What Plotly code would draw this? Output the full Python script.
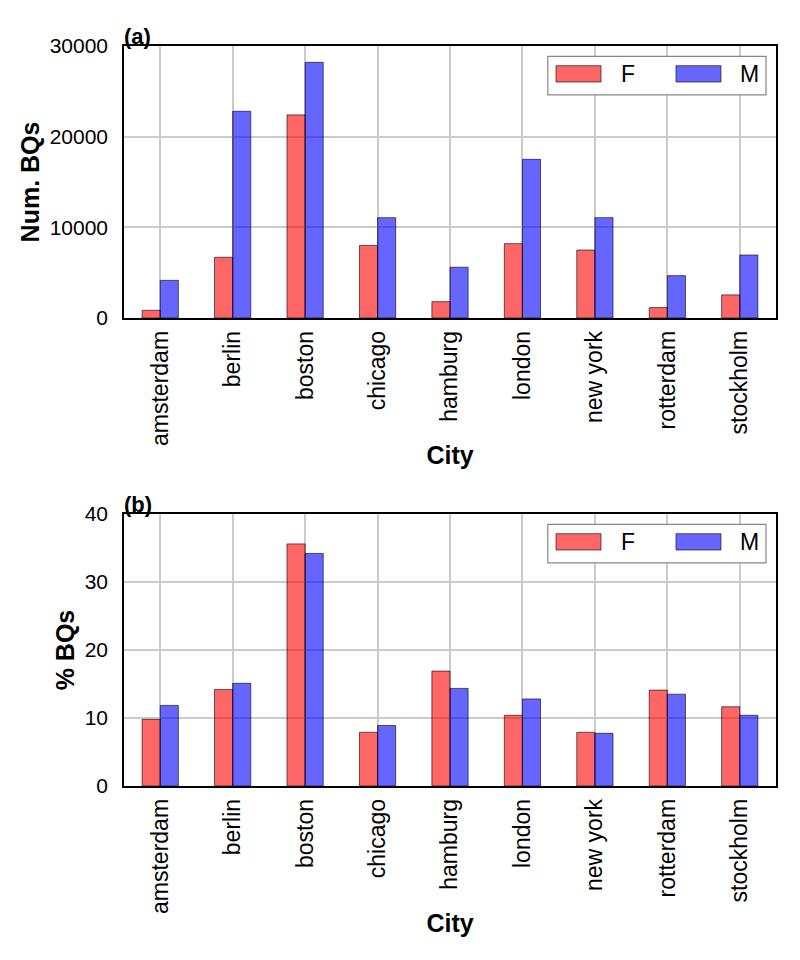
import plotly.graph_objects as go
from plotly.subplots import make_subplots

cities = ["amsterdam", "berlin", "boston", "chicago", "hamburg",
          "london", "new york", "rotterdam", "stockholm"]
num_F = [850, 6700, 22400, 8000, 1800, 8200, 7500, 1150, 2550]
num_M = [4150, 22800, 28200, 11070, 5600, 17500, 11070, 4670, 6950]
pct_F = [9.8, 14.2, 35.6, 7.9, 16.9, 10.4, 7.9, 14.1, 11.65]
pct_M = [11.85, 15.1, 34.2, 8.9, 14.35, 12.8, 7.75, 13.5, 10.4]
series_names = ["F", "M"]
panel_labels = ["(a)", "(b)"]
y_titles = ["Num. BQs", "% BQs"]
x_title = "City"
y_ticks_top = [0, 10000, 20000, 30000]
y_ticks_bot = [0, 10, 20, 30, 40]

RED = "rgba(255,0,0,0.6)"
BLUE = "rgba(0,0,255,0.6)"
EDGE = "rgba(0,0,0,0.6)"
FONT = "Liberation Sans"

fig = make_subplots(rows=2, cols=1)
fig.update_layout(
    width=800, height=960,
    margin=dict(l=124, r=24, t=0, b=0),
    paper_bgcolor="white", plot_bgcolor="white",
    barmode="group", bargap=0.5, bargroupgap=0,
    showlegend=False,
    font=dict(family=FONT, color="black", size=21),
)

data = [(num_F, num_M), (pct_F, pct_M)]
colors = [RED, BLUE]
for r, (f, m) in enumerate(data, start=1):
    for name, vals, col in zip(series_names, (f, m), colors):
        fig.add_trace(go.Bar(x=cities, y=vals, name=name,
                             marker=dict(color=col, line=dict(color=EDGE, width=1))),
                      row=r, col=1)

domains = [[1 - 318 / 960, 1 - 46 / 960], [1 - 786 / 960, 1 - 514 / 960]]
yranges = [[0, 30000], [0, 40]]
yticks = [y_ticks_top, y_ticks_bot]
for i in range(2):
    xa = "xaxis" if i == 0 else "xaxis2"
    ya = "yaxis" if i == 0 else "yaxis2"
    fig.update_layout(**{
        xa: dict(domain=[0, 1], showgrid=True, gridcolor="#cbcbcb", gridwidth=1.5,
                 showline=True, linecolor="black", linewidth=1.5, mirror=True,
                 ticks="", tickangle=-90,
                 ticklabelstandoff=2, automargin=False,
                 title=dict(text="<b>%s</b>" % x_title, standoff=2),
                 anchor="y" if i == 0 else "y2"),
        ya: dict(domain=domains[i], range=yranges[i], tickvals=yticks[i], tickformat="d",
                 showgrid=True, gridcolor="#cbcbcb", gridwidth=1.5,
                 showline=True, linecolor="black", linewidth=1.5, mirror=True,
                 ticks="", zeroline=False, automargin=False,
                 ticklabelstandoff=10,
                 title=dict(text="<b>%s</b>" % y_titles[i], standoff=3),
                 anchor="x" if i == 0 else "x2"),
    })
fig.update_xaxes(tickfont=dict(size=23, family=FONT))
fig.update_yaxes(tickfont=dict(size=21, family=FONT))

# panel labels and custom legends
for i in range(2):
    xr = "x domain" if i == 0 else "x2 domain"
    yr = "y domain" if i == 0 else "y2 domain"
    fig.add_annotation(text="<b>%s</b>" % panel_labels[i], xref=xr, yref=yr,
                       x=0, y=1, xanchor="left", yanchor="bottom", showarrow=False,
                       font=dict(size=22, family=FONT), yshift=-5, xshift=-2)
    fig.add_shape(type="rect", xref=xr, yref=yr, x0=0.650, x1=0.9847, y0=0.82, y1=0.962,
                  line=dict(color="#888888", width=1.2), fillcolor="white", layer="above")
    sw = [(0.6626, 0.7316, 0.759), (0.8466, 0.9156, 0.9417)]
    for (sx0, sx1, tx), name, col in zip(sw, series_names, colors):
        fig.add_shape(type="rect", xref=xr, yref=yr, x0=sx0, x1=sx1, y0=0.8676, y1=0.9276,
                      line=dict(color=EDGE, width=1), fillcolor=col, layer="above")
        fig.add_annotation(text=name, xref=xr, yref=yr, x=tx, y=0.897,
                           xanchor="left", yanchor="middle", showarrow=False,
                           font=dict(size=23, family=FONT))

fig.write_html("out.html")
